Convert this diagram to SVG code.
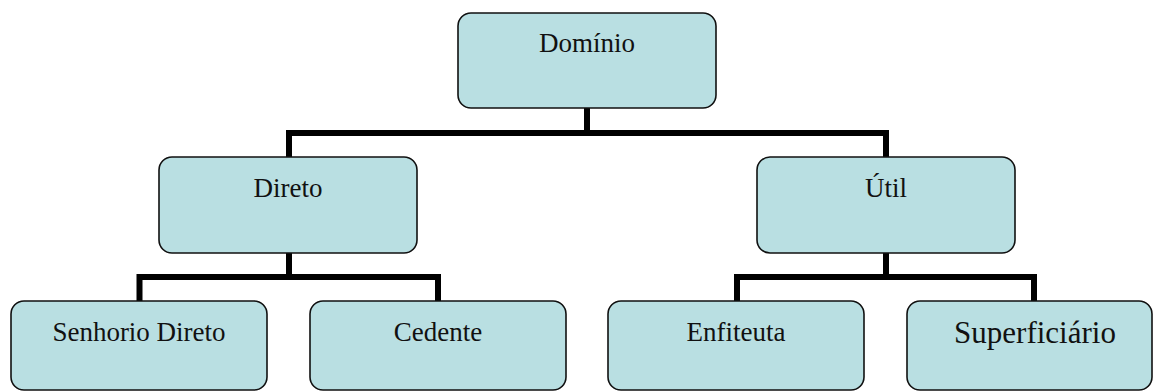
<svg xmlns="http://www.w3.org/2000/svg" width="1154" height="392" viewBox="0 0 1154 392">
<style>
.box{fill:#b9dfe2;stroke:#111;stroke-width:1.6}
.lbl{font-family:"Liberation Serif","Times New Roman",serif;font-size:27px;fill:#111;text-anchor:middle}
.big{font-size:31px}
.conn{fill:none;stroke:#000;stroke-width:6;stroke-linejoin:miter;stroke-linecap:butt}
</style>
<rect width="1154" height="392" fill="#fff"/>
<g id="connectors">
<path class="conn" d="M289 157 V133 H886 V157 M587 108 V133"/>
<path class="conn" d="M139.5 301 V277 H438 V301 M289 253 V277"/>
<path class="conn" d="M737 301 V277 H1034 V301 M886 253 V277"/>
</g>
<g id="dominio">
<rect class="box" x="458" y="13" width="258" height="95" rx="13"/>
<text class="lbl" x="587" y="52">Domínio</text>
</g>
<g id="direto">
<rect class="box" x="159" y="157" width="258" height="96" rx="13"/>
<text class="lbl" x="288" y="197">Direto</text>
</g>
<g id="util">
<rect class="box" x="757" y="157" width="258" height="96" rx="13"/>
<text class="lbl" x="886" y="197">Útil</text>
</g>
<g id="senhorio">
<rect class="box" x="11" y="301" width="256" height="89" rx="13"/>
<text class="lbl" x="139" y="341">Senhorio Direto</text>
</g>
<g id="cedente">
<rect class="box" x="310" y="301" width="256" height="89" rx="13"/>
<text class="lbl" x="438" y="341">Cedente</text>
</g>
<g id="enfiteuta">
<rect class="box" x="608" y="301" width="256" height="89" rx="13"/>
<text class="lbl" x="736" y="341">Enfiteuta</text>
</g>
<g id="superficiario">
<rect class="box" x="907" y="301" width="245" height="89" rx="13"/>
<text class="lbl big" x="1035" y="343">Superficiário</text>
</g>
</svg>
